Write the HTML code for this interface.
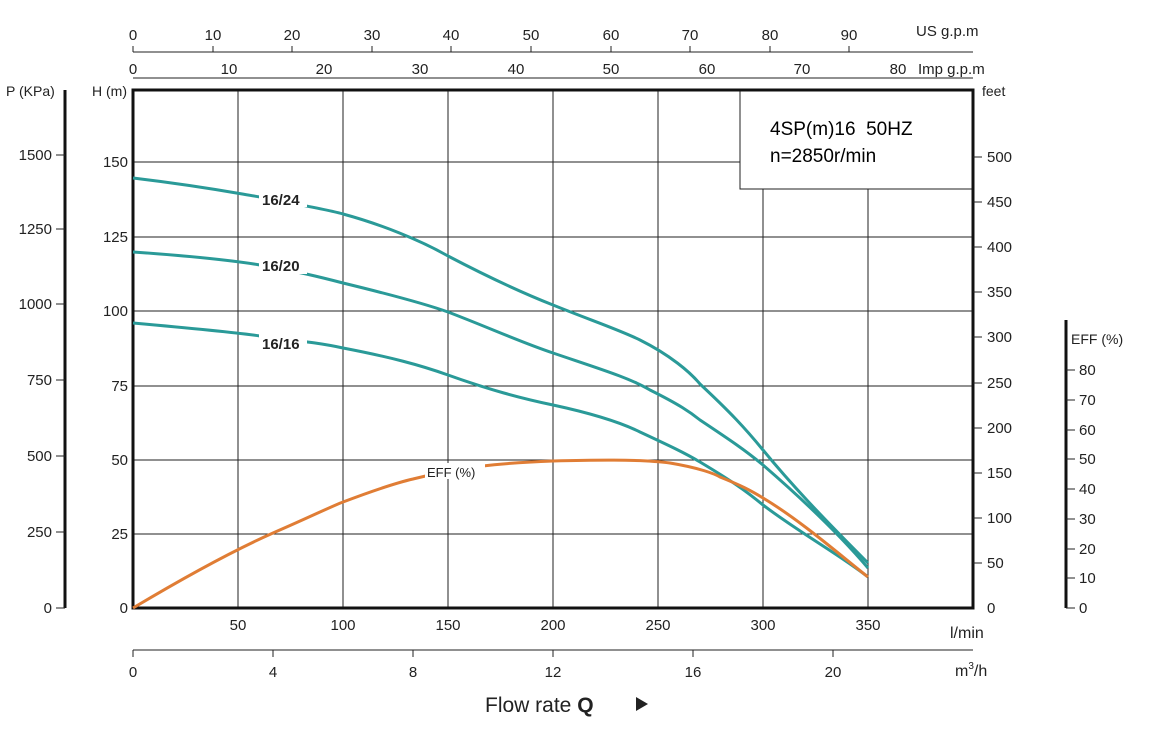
<!DOCTYPE html>
<html><head><meta charset="utf-8"><style>
body{margin:0;background:#fff;}
svg{display:block;font-family:"Liberation Sans",sans-serif;}
</style></head><body>
<svg width="1159" height="752" viewBox="0 0 1159 752" xmlns="http://www.w3.org/2000/svg">
<g stroke="#222" stroke-width="1">
<!-- vertical grid -->
<line x1="238" y1="90" x2="238" y2="608"/><line x1="343" y1="90" x2="343" y2="608"/>
<line x1="448" y1="90" x2="448" y2="608"/><line x1="553" y1="90" x2="553" y2="608"/>
<line x1="658" y1="90" x2="658" y2="608"/><line x1="763" y1="90" x2="763" y2="608"/>
<line x1="868" y1="90" x2="868" y2="608"/>
<!-- horizontal grid -->
<line x1="133" y1="162" x2="973" y2="162"/><line x1="133" y1="237" x2="973" y2="237"/>
<line x1="133" y1="311" x2="973" y2="311"/><line x1="133" y1="386" x2="973" y2="386"/>
<line x1="133" y1="460" x2="973" y2="460"/><line x1="133" y1="534" x2="973" y2="534"/>
</g>
<rect x="740" y="90" width="233" height="99" fill="#fff" stroke="#222" stroke-width="1"/>
<text x="770" y="135" font-size="19">4SP(m)16&#160;&#160;50HZ</text>
<text x="770" y="162" font-size="19">n=2850r/min</text>
<rect x="133" y="90" width="840" height="518" fill="none" stroke="#111" stroke-width="3"/>
<!-- curves -->
<g fill="none" stroke="#2a9a98" stroke-width="3">
<path d="M133,178 C200,186 230,192 260,197 C300,205 330,210 343,214 C380,224 420,240 448,256 C490,278 520,292 553,305 C590,320 620,330 640,340 C670,355 690,372 700,384 C730,412 745,428 763,450 C790,483 820,515 868,563"/>
<path d="M133,252 C190,256 230,260 260,265 C300,272 320,277 343,283 C380,292 420,302 448,312 C490,328 520,342 553,353 C600,369 630,378 650,390 C680,405 690,412 700,420 C730,440 745,450 763,465 C800,497 840,535 868,568"/>
<path d="M133,323 C200,329 240,333 260,336 C300,341 320,343 343,348 C390,357 420,365 448,375 C490,390 520,398 553,405 C590,413 620,422 640,432 C670,446 685,453 700,462 C730,480 745,490 763,505 C800,533 840,555 868,577"/>
</g>
<path d="M133,608 C180,580 230,552 273,533 C310,517 330,507 343,502 C380,488 400,482 413,479 C460,467 500,463 553,461 C590,460 640,459 670,463 C700,468 715,474 720,477 C740,485 750,490 763,498 C800,520 840,555 868,577" fill="none" stroke="#e07d35" stroke-width="3"/>
<g font-size="15" font-weight="bold" fill="#222">
<rect x="259" y="189" width="48" height="18" fill="#fff"/><text x="262" y="205">16/24</text>
<rect x="259" y="256" width="48" height="18" fill="#fff"/><text x="262" y="271">16/20</text>
<rect x="259" y="334" width="48" height="18" fill="#fff"/><text x="262" y="349">16/16</text>
</g>
<rect x="425" y="463" width="60" height="16" fill="#fff"/>
<text x="427" y="477" font-size="13" fill="#222">EFF (%)</text>
<!-- left H axis labels -->
<g font-size="15" fill="#222" text-anchor="end">
<text x="128" y="167">150</text><text x="128" y="242">125</text><text x="128" y="316">100</text>
<text x="128" y="391">75</text><text x="128" y="465">50</text><text x="128" y="539">25</text><text x="128" y="613">0</text>
</g>
<text x="92" y="96" font-size="14" fill="#222">H (m)</text>
<!-- P axis -->
<line x1="65" y1="90" x2="65" y2="608" stroke="#111" stroke-width="3"/>
<g stroke="#222" stroke-width="1">
<line x1="56" y1="155" x2="65" y2="155"/><line x1="56" y1="229" x2="65" y2="229"/><line x1="56" y1="304" x2="65" y2="304"/>
<line x1="56" y1="380" x2="65" y2="380"/><line x1="56" y1="456" x2="65" y2="456"/><line x1="56" y1="532" x2="65" y2="532"/><line x1="56" y1="608" x2="65" y2="608"/>
</g>
<g font-size="15" fill="#222" text-anchor="end">
<text x="52" y="160">1500</text><text x="52" y="234">1250</text><text x="52" y="309">1000</text>
<text x="52" y="385">750</text><text x="52" y="461">500</text><text x="52" y="537">250</text><text x="52" y="613">0</text>
</g>
<text x="6" y="96" font-size="14" fill="#222">P (KPa)</text>
<!-- feet axis -->
<g stroke="#222" stroke-width="1">
<line x1="973" y1="157" x2="982" y2="157"/><line x1="973" y1="202" x2="982" y2="202"/><line x1="973" y1="247" x2="982" y2="247"/>
<line x1="973" y1="292" x2="982" y2="292"/><line x1="973" y1="337" x2="982" y2="337"/><line x1="973" y1="383" x2="982" y2="383"/>
<line x1="973" y1="428" x2="982" y2="428"/><line x1="973" y1="473" x2="982" y2="473"/><line x1="973" y1="518" x2="982" y2="518"/>
<line x1="973" y1="563" x2="982" y2="563"/>
</g>
<g font-size="15" fill="#222">
<text x="987" y="162">500</text><text x="987" y="207">450</text><text x="987" y="252">400</text><text x="987" y="297">350</text>
<text x="987" y="342">300</text><text x="987" y="388">250</text><text x="987" y="433">200</text><text x="987" y="478">150</text>
<text x="987" y="523">100</text><text x="987" y="568">50</text><text x="987" y="613">0</text>
</g>
<text x="982" y="96" font-size="14" fill="#222">feet</text>
<!-- EFF axis -->
<line x1="1066" y1="320" x2="1066" y2="608" stroke="#111" stroke-width="3"/>
<g stroke="#222" stroke-width="1">
<line x1="1066" y1="370" x2="1075" y2="370"/><line x1="1066" y1="400" x2="1075" y2="400"/><line x1="1066" y1="430" x2="1075" y2="430"/>
<line x1="1066" y1="459" x2="1075" y2="459"/><line x1="1066" y1="489" x2="1075" y2="489"/><line x1="1066" y1="519" x2="1075" y2="519"/>
<line x1="1066" y1="549" x2="1075" y2="549"/><line x1="1066" y1="578" x2="1075" y2="578"/><line x1="1066" y1="608" x2="1075" y2="608"/>
</g>
<g font-size="15" fill="#222">
<text x="1079" y="375">80</text><text x="1079" y="405">70</text><text x="1079" y="435">60</text><text x="1079" y="464">50</text>
<text x="1079" y="494">40</text><text x="1079" y="524">30</text><text x="1079" y="554">20</text><text x="1079" y="583">10</text><text x="1079" y="613">0</text>
</g>
<text x="1071" y="344" font-size="14" fill="#222">EFF (%)</text>
<!-- top US gpm -->
<line x1="133" y1="52" x2="973" y2="52" stroke="#222" stroke-width="1"/>
<g font-size="15" fill="#222" text-anchor="middle">
<text x="133" y="40">0</text><text x="213" y="40">10</text><text x="292" y="40">20</text><text x="372" y="40">30</text>
<text x="451" y="40">40</text><text x="531" y="40">50</text><text x="611" y="40">60</text><text x="690" y="40">70</text>
<text x="770" y="40">80</text><text x="849" y="40">90</text>
</g>
<g stroke="#222"><line x1="133" y1="52" x2="133" y2="46"/><line x1="213" y1="52" x2="213" y2="46"/><line x1="292" y1="52" x2="292" y2="46"/><line x1="372" y1="52" x2="372" y2="46"/><line x1="451" y1="52" x2="451" y2="46"/><line x1="531" y1="52" x2="531" y2="46"/><line x1="611" y1="52" x2="611" y2="46"/><line x1="690" y1="52" x2="690" y2="46"/><line x1="770" y1="52" x2="770" y2="46"/><line x1="849" y1="52" x2="849" y2="46"/></g>
<text x="916" y="36" font-size="15" fill="#222">US g.p.m</text>
<!-- Imp gpm -->
<line x1="133" y1="78" x2="973" y2="78" stroke="#222" stroke-width="1"/>
<g font-size="15" fill="#222" text-anchor="middle">
<text x="133" y="74">0</text><text x="229" y="74">10</text><text x="324" y="74">20</text><text x="420" y="74">30</text>
<text x="516" y="74">40</text><text x="611" y="74">50</text><text x="707" y="74">60</text><text x="802" y="74">70</text><text x="898" y="74">80</text>
</g>
<text x="918" y="74" font-size="15" fill="#222">Imp g.p.m</text>
<!-- bottom l/min -->
<g font-size="15" fill="#222" text-anchor="middle">
<text x="238" y="630">50</text><text x="343" y="630">100</text><text x="448" y="630">150</text><text x="553" y="630">200</text>
<text x="658" y="630">250</text><text x="763" y="630">300</text><text x="868" y="630">350</text>
</g>
<text x="950" y="638" font-size="16" fill="#222">l/min</text>
<!-- m3/h -->
<line x1="133" y1="650" x2="973" y2="650" stroke="#222" stroke-width="1"/>
<g stroke="#222"><line x1="133" y1="650" x2="133" y2="657"/><line x1="273" y1="650" x2="273" y2="657"/><line x1="413" y1="650" x2="413" y2="657"/><line x1="553" y1="650" x2="553" y2="657"/><line x1="693" y1="650" x2="693" y2="657"/><line x1="833" y1="650" x2="833" y2="657"/></g>
<g font-size="15" fill="#222" text-anchor="middle">
<text x="133" y="677">0</text><text x="273" y="677">4</text><text x="413" y="677">8</text><text x="553" y="677">12</text>
<text x="693" y="677">16</text><text x="833" y="677">20</text>
</g>
<text x="955" y="676" font-size="16" fill="#222">m<tspan font-size="10" dy="-7">3</tspan><tspan dy="7">/h</tspan></text>
<text x="485" y="712" font-size="21" fill="#222">Flow rate <tspan font-weight="bold">Q</tspan></text>
<polygon points="636,697 636,711 648,704" fill="#222"/>
</svg>
</body></html>
